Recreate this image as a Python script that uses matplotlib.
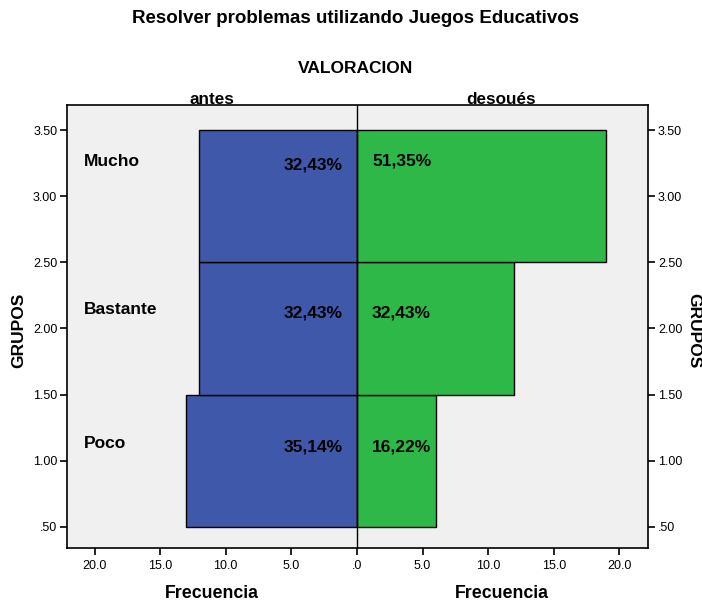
import matplotlib.pyplot as plt
import numpy as np

plt.rcParams['font.family'] = ['Liberation Sans', 'DejaVu Sans']

grupos = ['Poco', 'Bastante', 'Mucho']
grupo_y = [1.0, 2.0, 3.0]
antes = [13, 12, 12]
despues = [6, 12, 19]
pct_antes = ['35,14%', '32,43%', '32,43%']
pct_despues = ['16,22%', '32,43%', '51,35%']
yticks = [0.5, 1.0, 1.5, 2.0, 2.5, 3.0, 3.5]
ytick_labels = ['.50', '1.00', '1.50', '2.00', '2.50', '3.00', '3.50']
xticks = [-20, -15, -10, -5, 0, 5, 10, 15, 20]
xtick_labels = ['20.0', '15.0', '10.0', '5.0', '.0', '5.0', '10.0', '15.0', '20.0']

# vertical offsets of the labels inside each band (layout only)
off_grupo = [0.127, 0.14, 0.266]
off_antes = [0.104, 0.117, 0.235]
off_despues = [0.104, 0.117, 0.266]

fig = plt.figure(figsize=(7.02, 6.04), dpi=100)
ax = fig.add_axes([0.0954, 0.093, 0.828, 0.733])
ax.set_facecolor('#f0f0f0')

ax.barh(grupo_y, [-v for v in antes], height=1.0, color='#3f58a9',
        edgecolor='black', linewidth=1)
ax.barh(grupo_y, despues, height=1.0, color='#2eb848',
        edgecolor='black', linewidth=1)
ax.axvline(0, color='black', linewidth=1)

ax.set_xlim(-22.1, 22.2)
ax.set_ylim(0.341, 3.689)

# labels of groups and percents
for y, o, g in zip(grupo_y, off_grupo, grupos):
    ax.text(-20.8, y + o, g, ha='left', va='center', fontsize=12.5,
            fontweight='bold')
for y, o, p in zip(grupo_y, off_antes, pct_antes):
    ax.text(-1.07, y + o, p, ha='right', va='center', fontsize=12.5,
            fontweight='bold')
for y, o, p in zip(grupo_y, off_despues, pct_despues):
    ax.text(1.15, y + o, p, ha='left', va='center', fontsize=12.5,
            fontweight='bold')

ax.set_xticks(xticks)
ax.set_xticklabels(xtick_labels, fontsize=9)
ax.set_yticks(yticks)
ax.set_yticklabels(ytick_labels, fontsize=9)
ax.tick_params(axis='y', which='both', left=True, right=True,
               labelleft=True, labelright=True, length=5, width=1.2, pad=2)
ax.tick_params(axis='x', length=5, width=1.2, pad=4)
for s in ax.spines.values():
    s.set_linewidth(1.2)

fig.text(0.506, 0.969, 'Resolver problemas utilizando Juegos Educativos',
         ha='center', va='center', fontsize=13.5, fontweight='bold')
fig.text(0.507, 0.886, 'VALORACION', ha='center', va='center',
         fontsize=12.5, fontweight='bold')
fig.text(0.302, 0.836, 'antes', ha='center', va='center', fontsize=12.3,
         fontweight='bold')
fig.text(0.714, 0.836, 'desoués', ha='center', va='center', fontsize=12.3,
         fontweight='bold')
fig.text(0.302, 0.018, 'Frecuencia', ha='center', va='center',
         fontsize=12.8, fontweight='bold')
fig.text(0.715, 0.018, 'Frecuencia', ha='center', va='center',
         fontsize=12.8, fontweight='bold')
fig.text(0.026, 0.453, 'GRUPOS', ha='center', va='center', rotation=90,
         fontsize=12.5, fontweight='bold')
fig.text(0.988, 0.453, 'GRUPOS', ha='center', va='center', rotation=270,
         fontsize=12.5, fontweight='bold')

fig.savefig('out.png', dpi=100)
